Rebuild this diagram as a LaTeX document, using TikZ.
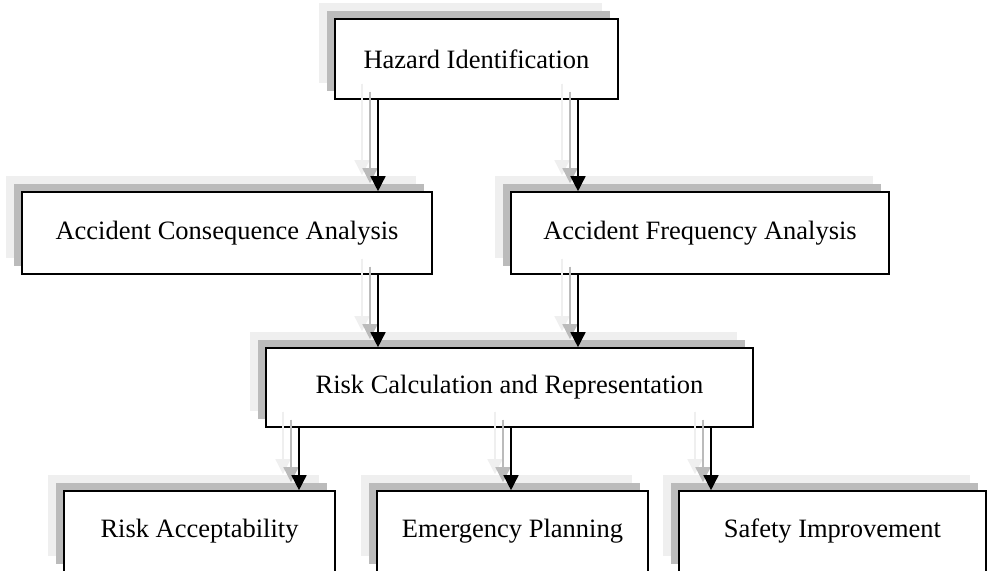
\documentclass[tikz,border=0pt]{standalone}
\usepackage{fontspec}
\setmainfont{Liberation Serif}
\usetikzlibrary{arrows.meta,shadows}

\definecolor{shadelight}{HTML}{EFEFEF}
\definecolor{shadedark}{HTML}{BBBBBB}

\tikzset{
  stage/.style={
    draw=black, line width=1.6pt, fill=white, inner sep=0pt,
    font=\fontsize{26.5}{30}\selectfont, text=black,
    general shadow={fill=shadelight, shadow xshift=-16pt, shadow yshift=16pt},
    general shadow={fill=shadedark, shadow xshift=-8pt, shadow yshift=8pt}
  },
  flow/.style={line width=1.5pt, -{Triangle[width=15pt,length=15pt]}},
  flowlight/.style={flow, draw=shadelight, fill=shadelight, transform canvas={xshift=-16pt, yshift=16pt}},
  flowdark/.style={flow, draw=shadedark, fill=shadedark, transform canvas={xshift=-8pt, yshift=8pt}}
}

\begin{document}
\begin{tikzpicture}[x=1pt, y=-1pt]
  \useasboundingbox (0,0) rectangle (987,570);

  % process stages
  \node[stage, minimum width=283pt, minimum height=80pt] (haz) at (476.5,59) {Hazard Identification};
  \node[stage, minimum width=410pt, minimum height=82pt] (aca) at (227,233) {Accident Consequence Analysis};
  \node[stage, minimum width=378pt, minimum height=82pt] (afa) at (700,233) {Accident Frequency Analysis};
  \node[stage, minimum width=487pt, minimum height=79pt] (rcr) at (509.5,387.5) {Risk Calculation and Representation};
  \node[stage, minimum width=271pt, minimum height=81pt] (ra) at (199.5,531.5) {Risk Acceptability};
  \node[stage, minimum width=271pt, minimum height=81pt] (ep) at (512.5,531.5) {Emergency Planning};
  \node[stage, minimum width=307pt, minimum height=81pt] (si) at (832.5,531.5) {Safety Improvement};

  % columns of the connectors
  \coordinate (xl) at (378,0);
  \coordinate (xr) at (578,0);
  \coordinate (xa) at (299,0);
  \coordinate (xe) at (511,0);
  \coordinate (xs) at (711,0);

  % connectors, each with two offset shadow copies
  \foreach \src/\dst/\col in {haz/aca/xl, haz/afa/xr, aca/rcr/xl, afa/rcr/xr, rcr/ra/xa, rcr/ep/xe, rcr/si/xs} {
    \draw[flowlight] (\src.south -| \col) -- (\dst.north -| \col);
    \draw[flowdark] (\src.south -| \col) -- (\dst.north -| \col);
    \draw[flow] (\src.south -| \col) -- (\dst.north -| \col);
  }
\end{tikzpicture}
\end{document}
